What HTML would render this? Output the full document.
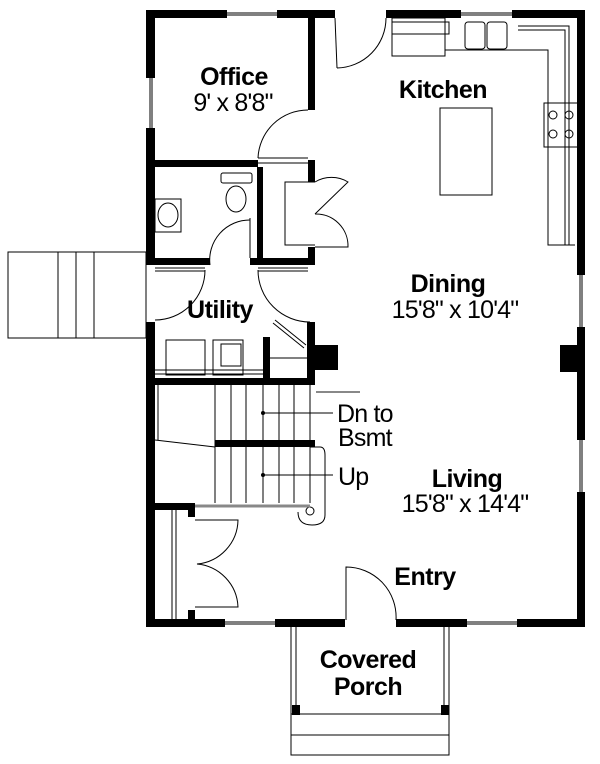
<!DOCTYPE html>
<html><head><style>
html,body{margin:0;padding:0;background:#fff;width:600px;height:764px;overflow:hidden}
text{font-family:"Liberation Sans",Arial,sans-serif;fill:#000}
.b{font-weight:bold;font-size:25px;letter-spacing:-0.5px}
.r{font-size:25px;letter-spacing:-0.8px}
</style></head><body>
<svg width="600" height="764" viewBox="0 0 600 764" xmlns="http://www.w3.org/2000/svg">
<g fill="none" stroke="#000" stroke-width="1">
<rect x="8" y="252" width="138" height="86"/>
<line x1="58" y1="252" x2="58" y2="338"/><line x1="76" y1="252" x2="76" y2="338"/><line x1="94" y1="252" x2="94" y2="338"/>
</g>
<g fill="#000">
<rect x="146" y="10" width="438" height="8"/>
<rect x="146" y="10" width="9" height="255"/>
<rect x="146" y="322" width="9" height="305"/>
<rect x="577" y="10" width="8" height="617"/>
<rect x="146" y="619" width="439" height="8"/>
</g>
<g fill="#fff">
<rect x="227" y="10" width="50" height="8"/>
<rect x="335" y="10" width="51" height="8"/>
<rect x="461" y="10" width="51" height="8"/>
<rect x="146" y="78" width="9" height="50"/>
<rect x="577" y="275" width="8" height="52"/>
<rect x="577" y="440" width="8" height="52"/>
<rect x="225" y="619" width="50" height="8"/>
<rect x="467" y="619" width="50" height="8"/>
<rect x="345" y="619" width="51" height="8"/>
</g>
<g fill="none" stroke="#000" stroke-width="1">
<line x1="227" y1="13" x2="277" y2="13"/><line x1="227" y1="15" x2="277" y2="15"/>
<line x1="461" y1="13" x2="512" y2="13"/><line x1="461" y1="15" x2="512" y2="15"/>
<line x1="150" y1="78" x2="150" y2="128"/><line x1="152" y1="78" x2="152" y2="128"/>
<line x1="580" y1="275" x2="580" y2="327"/><line x1="582" y1="275" x2="582" y2="327"/>
<line x1="580" y1="440" x2="580" y2="492"/><line x1="582" y1="440" x2="582" y2="492"/>
<line x1="225" y1="622" x2="275" y2="622"/><line x1="225" y1="624" x2="275" y2="624"/>
<line x1="467" y1="622" x2="517" y2="622"/><line x1="467" y1="624" x2="517" y2="624"/>
</g>
<g fill="#000">
<rect x="308" y="18" width="7" height="92"/>
<rect x="155" y="160" width="103" height="7"/>
<rect x="308" y="160" width="7" height="22"/>
<rect x="308" y="247" width="7" height="18"/>
<rect x="257" y="167" width="6" height="92"/>
<rect x="155" y="258" width="55" height="7"/>
<rect x="250" y="258" width="65" height="7"/>
<rect x="307" y="322" width="8" height="63"/>
<rect x="263" y="337" width="7" height="48"/>
<rect x="146" y="378" width="169" height="7"/>
<rect x="315" y="345" width="23" height="25"/>
<rect x="560" y="345" width="20" height="27"/>
<rect x="215" y="440" width="100" height="7"/>
<rect x="146" y="503" width="46" height="7"/>
<rect x="188" y="503" width="7" height="14"/>
<rect x="188" y="610" width="7" height="10"/>
</g>
<g fill="none" stroke="#000" stroke-width="1">
<line x1="258" y1="158" x2="308" y2="158"/><line x1="258" y1="163" x2="308" y2="163"/>
<path d="M258 158 A50 50 0 0 1 308 110"/>
<line x1="335" y1="18" x2="337" y2="68"/>
<path d="M337 68 A50 50 0 0 0 386 18"/>
<rect x="221" y="173" width="31" height="10" rx="2"/>
<ellipse cx="236" cy="199" rx="10" ry="13"/>
<rect x="155" y="199" width="26" height="33"/>
<ellipse cx="168" cy="215" rx="10" ry="12"/>
<line x1="250" y1="218" x2="250" y2="258"/>
<path d="M210 265 A40 40 0 0 1 250 220"/>
<path d="M315 182 L285 182 L285 245 L315 245"/>
<path d="M315 182 A32 32 0 0 1 348 182 L315 214 M315 214 A32 32 0 0 1 348 247 L315 247"/>
<line x1="155" y1="268" x2="205" y2="268"/><line x1="155" y1="271" x2="205" y2="271"/>
<line x1="258" y1="268" x2="308" y2="268"/><line x1="258" y1="271" x2="308" y2="271"/>
<path d="M258 270 A52 52 0 0 0 310 322"/>
<path d="M155 320 A50 50 0 0 0 205 270"/>
<rect x="166" y="340" width="39" height="35"/>
<rect x="213" y="340" width="30" height="35"/><rect x="221" y="344" width="20" height="22"/>
<line x1="155" y1="370" x2="263" y2="370"/><line x1="155" y1="374" x2="263" y2="374"/>
<line x1="270" y1="358" x2="307" y2="358"/>
<path d="M275 320 L306 345 M273 323 L304 348"/>
<rect x="392" y="18" width="53" height="38"/>
<rect x="392" y="22" width="57" height="12"/>
<path d="M445 50 L548 50 L548 245 L575 245"/>
<path d="M518 30 L565 30 L565 245 M518 26 L569 26 L569 245"/>
<rect x="465" y="22" width="20" height="27" rx="3"/><rect x="487" y="22" width="20" height="27" rx="3"/>
<rect x="544" y="103" width="34" height="44"/>
<circle cx="553" cy="115" r="4"/><circle cx="569" cy="115" r="4"/>
<circle cx="553" cy="134" r="4"/><circle cx="569" cy="134" r="4"/>
<rect x="440" y="108" width="52" height="87"/>
<line x1="155" y1="440" x2="215" y2="447"/>
<line x1="215" y1="385" x2="215" y2="503"/>
<line x1="231" y1="385" x2="231" y2="503"/><line x1="246" y1="385" x2="246" y2="503"/>
<line x1="263" y1="385" x2="263" y2="503"/><line x1="279" y1="385" x2="279" y2="503"/>
<line x1="294" y1="385" x2="294" y2="503"/><line x1="310" y1="385" x2="310" y2="440"/>
<line x1="310" y1="447" x2="310" y2="503"/>
<line x1="158" y1="385" x2="158" y2="440"/>
<line x1="263" y1="413" x2="333" y2="413"/><line x1="263" y1="475" x2="333" y2="475"/>
<path d="M310 447 L320 447 Q325 447 325 455 L325 515 Q325 525 312 525 Q298 525 298 512"/>
<circle cx="310" cy="511" r="4"/>
<line x1="195" y1="506" x2="310" y2="506" stroke="#888" stroke-width="3"/>
<line x1="316" y1="392" x2="360" y2="392" stroke="#888" stroke-width="2"/>
<line x1="172" y1="510" x2="172" y2="619"/><line x1="176" y1="510" x2="176" y2="619"/>
<path d="M195 520 L238 520 A45 45 0 0 1 197 564 A45 45 0 0 1 238 607 L195 607"/>
<path d="M346 620 L346 567 A50 50 0 0 1 396 620"/>
<path d="M291 627 L291 714 L449 714 L449 627"/>
<line x1="296" y1="627" x2="296" y2="705"/><line x1="444" y1="627" x2="444" y2="705"/>
<rect x="291" y="714" width="158" height="41"/>
<line x1="291" y1="735" x2="449" y2="735"/>
</g>
<g fill="#000">
<rect x="292" y="705" width="8" height="10"/><rect x="441" y="705" width="8" height="10"/>
<circle cx="263" cy="413" r="2"/><circle cx="263" cy="475" r="2"/>
</g>
<text class="b" x="234" y="85" text-anchor="middle">Office</text>
<text class="r" x="233" y="111" text-anchor="middle">9' x 8'8"</text>
<text class="b" x="443" y="98" text-anchor="middle">Kitchen</text>
<text class="b" x="448" y="292" text-anchor="middle">Dining</text>
<text class="r" x="455" y="318" text-anchor="middle">15'8" x 10'4"</text>
<text class="b" x="220" y="318" text-anchor="middle">Utility</text>
<text class="r" x="337" y="422">Dn to</text>
<text class="r" x="338" y="446">Bsmt</text>
<text class="r" x="338" y="485">Up</text>
<text class="b" x="467" y="487" text-anchor="middle">Living</text>
<text class="r" x="465" y="512" text-anchor="middle">15'8" x 14'4"</text>
<text class="b" x="425" y="585" text-anchor="middle">Entry</text>
<text class="b" x="368" y="668" text-anchor="middle">Covered</text>
<text class="b" x="368" y="695" text-anchor="middle">Porch</text>
</svg>
</body></html>
